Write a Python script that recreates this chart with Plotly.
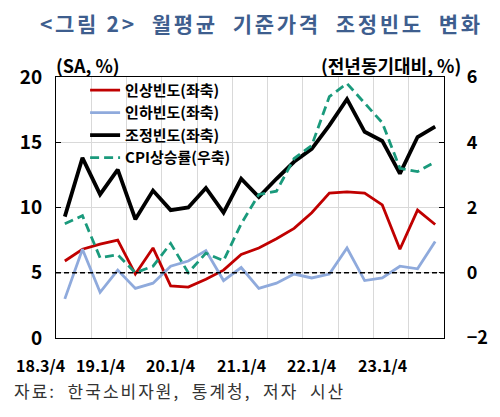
import plotly.graph_objects as go

# quarterly, 18.3/4 ~ 23.4/4
quarters = list(range(22))

raise_freq = [5.9, 6.8, 7.2, 7.5, 4.9, 6.9, 4.0, 3.9, 4.5, 5.2, 6.4,
              6.9, 7.6, 8.4, 9.6, 11.1, 11.2, 11.1, 10.2, 6.8, 9.8, 8.7]
cut_freq = [3.0, 6.8, 3.5, 5.2, 3.8, 4.2, 5.5, 5.9, 6.7, 4.4, 5.4,
            3.8, 4.2, 4.9, 4.6, 4.9, 6.9, 4.4, 4.6, 5.5, 5.3, 7.4]
adj_freq = [9.3, 13.8, 11.0, 12.9, 9.1, 11.3, 9.8, 10.0, 11.5, 9.6, 12.2,
            10.8, 12.2, 13.5, 14.5, 16.3, 18.3, 15.8, 15.1, 12.6, 15.4, 16.2]
cpi = [1.5, 1.75, 0.46, 0.55, 0.0, 0.2, 0.9, 0.0, 0.6, 0.37, 1.5,
       2.4, 2.5, 3.5, 3.9, 5.4, 5.8, 5.2, 4.6, 3.2, 3.1, 3.4]

x_labels = ["18.3/4", "19.1/4", "20.1/4", "21.1/4", "22.1/4", "23.1/4"]
x_label_pos = [-1.4, 2, 6, 10, 14, 18]

font = "Noto Sans CJK KR"
sp = "\u00a0"

fig = go.Figure()
fig.add_trace(go.Scatter(x=quarters, y=raise_freq, name="인상빈도(좌축)", mode="lines",
                         line=dict(color="#C00000", width=2.8)))
fig.add_trace(go.Scatter(x=quarters, y=cut_freq, name="인하빈도(좌축)", mode="lines",
                         line=dict(color="#8FAADC", width=2.8)))
fig.add_trace(go.Scatter(x=quarters, y=adj_freq, name="조정빈도(좌축)", mode="lines",
                         line=dict(color="#000000", width=3.8)))
fig.add_trace(go.Scatter(x=quarters, y=cpi, name="CPI상승률(우축)", mode="lines", yaxis="y2",
                         line=dict(color="#1A9A7C", width=2.8, dash="9px,5px")))

# dashed zero line of the right axis
fig.add_shape(type="line", xref="paper", x0=0, x1=1, yref="y2", y0=0, y1=0,
              line=dict(color="black", width=1.5, dash="5px,3px"))

# x labels: category index -> paper position
for lab, pos in zip(x_labels, x_label_pos):
    fig.add_annotation(x=(pos + 0.5) / len(quarters), xref="paper", y=-0.105, yref="paper",
                       text=lab, showarrow=False,
                       font=dict(family=font, size=16, color="black", weight="bold"),
                       xanchor="center", yanchor="middle")

fig.add_annotation(x=-0.005, xref="paper", y=0.99, yref="paper", text="(SA, %)", showarrow=False,
                   xanchor="left", yanchor="bottom",
                   font=dict(family=font, size=18, color="black", weight="bold"))
fig.add_annotation(x=1.05, xref="paper", y=0.99, yref="paper", text="(전년동기대비, %)",
                   showarrow=False, xanchor="right", yanchor="bottom",
                   font=dict(family=font, size=18, color="black", weight="bold"))
src = "자료:" + sp * 2 + "한국소비자원," + sp * 2 + "통계청," + sp * 2 + "저자" + sp * 2 + "시산"
fig.add_annotation(x=-0.113, xref="paper", y=-0.2, yref="paper",
                   text='<span style="letter-spacing:2px">' + src + "</span>",
                   showarrow=False, xanchor="left", yanchor="middle",
                   font=dict(family=font, size=17, color="#333333"))

title_text = ("<그림" + sp + "2>" + sp * 2 + "월평균" + sp * 2 + "기준가격" + sp * 2
              + "조정빈도" + sp * 2 + "변화")

# page body adds 8px offset, so the figure is 8px smaller than the window
fig.update_layout(
    width=492, height=409,
    margin=dict(l=45, r=48, t=69, b=79),
    paper_bgcolor="white", plot_bgcolor="white",
    title=dict(text='<span style="letter-spacing:2.7px">' + title_text + "</span>",
               x=0.515, xanchor="center", y=0.96, yanchor="middle",
               font=dict(family=font, size=21, color="#3E5E8E", weight="bold")),
    font=dict(family=font, size=14, color="black"),
    legend=dict(x=0.075, y=1.012, xanchor="left", yanchor="top", bgcolor="rgba(0,0,0,0)",
                font=dict(family=font, size=15, color="black", weight="bold"),
                tracegroupgap=0, itemwidth=30),
    xaxis=dict(range=[-0.5, 21.5], tick0=-0.5, dtick=2, showticklabels=False,
               showgrid=True, gridcolor="#D9D9D9", gridwidth=1, zeroline=False,
               showline=True, linecolor="black", linewidth=1.2, mirror=True, ticks=""),
    yaxis=dict(range=[0, 20], dtick=5, showgrid=True, gridcolor="#D9D9D9", zeroline=False,
               showline=True, linecolor="black", linewidth=1.2, ticks="inside", ticklen=5,
               tickcolor="black", ticklabelstandoff=9,
               tickfont=dict(family=font, size=19, color="black", weight="bold")),
    yaxis2=dict(range=[-2, 6], dtick=2, overlaying="y", side="right", showgrid=False,
                zeroline=False, showline=True, linecolor="black", linewidth=1.2,
                ticks="inside", ticklen=5, tickcolor="black", ticklabelstandoff=18,
                tickfont=dict(family=font, size=18, color="black", weight="bold")),
)

fig.write_html("out.html")
